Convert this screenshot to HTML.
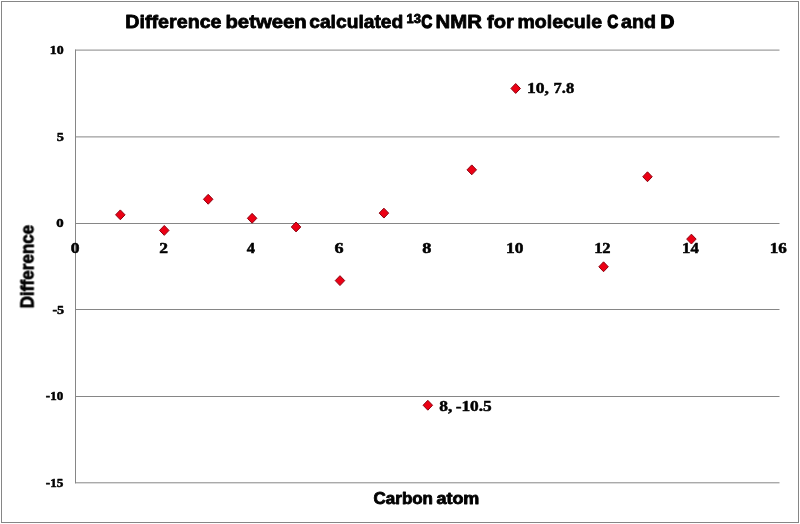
<!DOCTYPE html>
<html><head><meta charset="utf-8"><title>Difference between calculated 13C NMR for molecule C and D</title>
<style>html,body{margin:0;padding:0;background:#fff;}body{width:800px;height:524px;overflow:hidden;}svg{display:block;}text{font-family:"Liberation Sans",sans-serif;font-weight:bold;fill:#000;stroke:#000;stroke-width:0.6px;stroke-linejoin:round;}text.h{stroke-width:0.8px;}text.h2{stroke-width:1.3px;}text.n{font-family:"Liberation Serif",serif;stroke-width:0.5px;}</style>
</head><body>
<svg width="800" height="524" viewBox="0 0 800 524">
<rect x="0" y="0" width="800" height="524" fill="#fff"/>
<rect x="1.5" y="1.5" width="797" height="521" fill="none" stroke="#868686" stroke-width="1"/>
<line x1="75" y1="50.1" x2="779.5" y2="50.1" stroke="#868686" stroke-width="1"/>
<line x1="75" y1="136.9" x2="779.5" y2="136.9" stroke="#868686" stroke-width="1"/>
<line x1="75" y1="223.5" x2="779.5" y2="223.5" stroke="#868686" stroke-width="1"/>
<line x1="75" y1="309.5" x2="779.5" y2="309.5" stroke="#868686" stroke-width="1"/>
<line x1="75" y1="396.5" x2="779.5" y2="396.5" stroke="#868686" stroke-width="1"/>
<line x1="75" y1="482.8" x2="779.5" y2="482.8" stroke="#868686" stroke-width="1"/>
<line x1="75.5" y1="49.6" x2="75.5" y2="483.3" stroke="#868686" stroke-width="1"/>
<g style="opacity:0.999">
<text x="125.37" y="28.4" class="h" font-size="19" textLength="96.17" lengthAdjust="spacingAndGlyphs">Difference</text>
<text x="225.42" y="28.4" class="h" font-size="19" textLength="81.40" lengthAdjust="spacingAndGlyphs">between</text>
<text x="309.19" y="28.4" class="h" font-size="19" textLength="94.13" lengthAdjust="spacingAndGlyphs">calculated</text>
<text x="421.17" y="28.4" class="h2" font-size="19" textLength="11.05" lengthAdjust="spacingAndGlyphs">C</text>
<text x="435.61" y="28.4" class="h" font-size="19" textLength="46.34" lengthAdjust="spacingAndGlyphs">NMR</text>
<text x="486.96" y="28.4" class="h" font-size="19" textLength="26.82" lengthAdjust="spacingAndGlyphs">for</text>
<text x="517.46" y="28.4" class="h" font-size="19" textLength="84.57" lengthAdjust="spacingAndGlyphs">molecule</text>
<text x="607.21" y="28.4" class="h2" font-size="19" textLength="10.93" lengthAdjust="spacingAndGlyphs">C</text>
<text x="621.08" y="28.4" class="h" font-size="19" textLength="35.01" lengthAdjust="spacingAndGlyphs">and</text>
<text x="660.55" y="28.4" class="h2" font-size="19" textLength="13.83" lengthAdjust="spacingAndGlyphs">D</text>
<text x="406.53" y="22.6" class="h" font-size="12.2" textLength="14.37" lengthAdjust="spacingAndGlyphs">13</text>
<text x="49.71" y="54.1" class="n" font-size="12" textLength="13.86" lengthAdjust="spacingAndGlyphs">10</text>
<text x="56.66" y="140.9" class="n" font-size="12" textLength="7.10" lengthAdjust="spacingAndGlyphs">5</text>
<text x="56.38" y="226.7" class="n" font-size="12" textLength="7.41" lengthAdjust="spacingAndGlyphs">0</text>
<text x="52.45" y="313.5" class="n" font-size="12" textLength="11.73" lengthAdjust="spacingAndGlyphs">-5</text>
<text x="45.89" y="400.2" class="n" font-size="12" textLength="17.35" lengthAdjust="spacingAndGlyphs">-10</text>
<text x="45.89" y="486.6" class="n" font-size="12" textLength="17.60" lengthAdjust="spacingAndGlyphs">-15</text>
<text x="70.87" y="253.3" class="n" font-size="14.0" textLength="8.77" lengthAdjust="spacingAndGlyphs">0</text>
<text x="159.37" y="253.3" class="n" font-size="14.0" textLength="8.72" lengthAdjust="spacingAndGlyphs">2</text>
<text x="246.80" y="253.3" class="n" font-size="14.0" textLength="8.28" lengthAdjust="spacingAndGlyphs">4</text>
<text x="334.53" y="253.3" class="n" font-size="14.0" textLength="9.05" lengthAdjust="spacingAndGlyphs">6</text>
<text x="422.30" y="253.3" class="n" font-size="14.0" textLength="9.11" lengthAdjust="spacingAndGlyphs">8</text>
<text x="506.14" y="253.3" class="n" font-size="14.0" textLength="17.40" lengthAdjust="spacingAndGlyphs">10</text>
<text x="594.17" y="253.3" class="n" font-size="14.0" textLength="16.42" lengthAdjust="spacingAndGlyphs">12</text>
<text x="682.13" y="253.3" class="n" font-size="14.0" textLength="16.68" lengthAdjust="spacingAndGlyphs">14</text>
<text x="769.71" y="253.3" class="n" font-size="14.0" textLength="17.02" lengthAdjust="spacingAndGlyphs">16</text>
<text x="373.59" y="503.5" class="h" font-size="15.6" textLength="59.40" lengthAdjust="spacingAndGlyphs">Carbon</text>
<text x="436.42" y="503.5" class="h" font-size="15.6" textLength="42.96" lengthAdjust="spacingAndGlyphs">atom</text>
<text x="526.98" y="93.35" class="n" font-size="15.6" textLength="21.96" lengthAdjust="spacingAndGlyphs">10,</text>
<text x="553.62" y="93.35" class="n" font-size="15.6" textLength="20.57" lengthAdjust="spacingAndGlyphs">7.8</text>
<text x="439.39" y="410.7" class="n" font-size="15.6" textLength="13.09" lengthAdjust="spacingAndGlyphs">8,</text>
<text x="455.66" y="410.7" class="n" font-size="15.6" textLength="36.13" lengthAdjust="spacingAndGlyphs">-10.5</text>
<text transform="translate(33.5,308.36) rotate(-90)" class="h" font-size="18.6" textLength="83.62" lengthAdjust="spacingAndGlyphs">Difference</text>
</g>
<path d="M120.33 209.90L125.08 214.84L120.33 219.79L115.58 214.84Z" fill="#ec0014" stroke="#8c0010" stroke-width="1"/>
<path d="M164.26 225.47L169.01 230.42L164.26 235.37L159.51 230.42Z" fill="#ec0014" stroke="#8c0010" stroke-width="1"/>
<path d="M208.19 194.32L212.94 199.27L208.19 204.22L203.44 199.27Z" fill="#ec0014" stroke="#8c0010" stroke-width="1"/>
<path d="M252.12 213.36L256.87 218.31L252.12 223.26L247.37 218.31Z" fill="#ec0014" stroke="#8c0010" stroke-width="1"/>
<path d="M296.05 222.01L300.80 226.96L296.05 231.91L291.30 226.96Z" fill="#ec0014" stroke="#8c0010" stroke-width="1"/>
<path d="M339.98 275.67L344.73 280.62L339.98 285.57L335.23 280.62Z" fill="#ec0014" stroke="#8c0010" stroke-width="1"/>
<path d="M383.91 208.16L388.66 213.11L383.91 218.06L379.16 213.11Z" fill="#ec0014" stroke="#8c0010" stroke-width="1"/>
<path d="M427.84 400.31L432.59 405.25L427.84 410.20L423.09 405.25Z" fill="#ec0014" stroke="#8c0010" stroke-width="1"/>
<path d="M471.77 164.89L476.52 169.84L471.77 174.79L467.02 169.84Z" fill="#ec0014" stroke="#8c0010" stroke-width="1"/>
<path d="M515.70 83.53L520.45 88.48L515.70 93.43L510.95 88.48Z" fill="#ec0014" stroke="#8c0010" stroke-width="1"/>
<path d="M603.56 261.82L608.31 266.77L603.56 271.72L598.81 266.77Z" fill="#ec0014" stroke="#8c0010" stroke-width="1"/>
<path d="M647.49 171.81L652.24 176.76L647.49 181.71L642.74 176.76Z" fill="#ec0014" stroke="#8c0010" stroke-width="1"/>
<path d="M691.42 234.13L696.17 239.08L691.42 244.03L686.67 239.08Z" fill="#ec0014" stroke="#8c0010" stroke-width="1"/>
</svg>
</body></html>
